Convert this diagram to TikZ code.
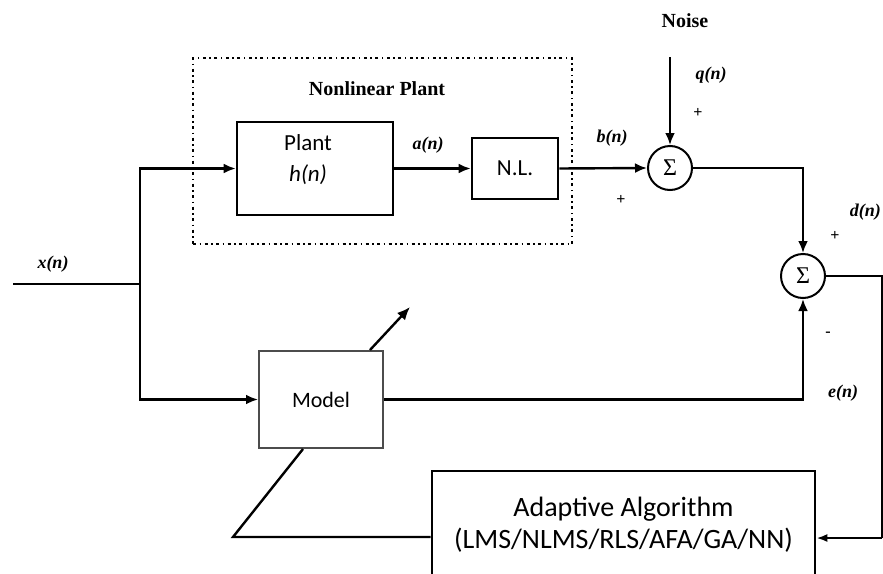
\documentclass[tikz,border=0pt]{standalone}
\usepackage{fontspec}
\setmainfont{Liberation Serif}
\newfontfamily\calib{Carlito}
\usetikzlibrary{arrows.meta,calc}
\begin{document}
\begin{tikzpicture}[x=1pt,y=-1pt,
  line/.style={line width=2.4pt},
  arr/.style={line width=2.4pt,-{Latex[length=12pt,width=10pt]}},
  blk/.style={draw,line width=2.6pt,inner sep=0pt},
  thinblk/.style={draw=black!70,line width=2pt,inner sep=0pt},
  sumnode/.style={draw,circle,line width=2pt,minimum size=44pt,inner sep=0pt,font=\fontsize{24}{24}\selectfont},
  lab/.style={font=\fontsize{18}{18}\selectfont\bfseries\itshape},
  title/.style={font=\fontsize{20}{20}\selectfont\bfseries},
  sgn/.style={font=\fontsize{16}{16}\selectfont\bfseries},
  sans/.style={font=\calib\fontsize{23}{31}\selectfont,align=center}]
\clip (0,0) rectangle (883,573);
\fill[white] (0,0) rectangle (883,573);
% blocks
\node[draw,line width=2pt,dash pattern=on 3pt off 3.5pt on 1.5pt off 3.5pt,minimum width=379pt,minimum height=186pt,inner sep=0pt] (nlp) at (382.5,151) {};
\node[title] (nlptitle) at (377,89) {Nonlinear Plant};
\node[blk,minimum width=156pt,minimum height=93pt] (plant) at (315,168.5) {};
\node[sans] (plantlbl) at (308,160) {Plant\\\textit{h(n)}};
\node[blk,minimum width=86pt,minimum height=61pt,font=\calib\fontsize{23}{23}\selectfont] (nl) at (515,168.5) {N.L.};
\node[sumnode] (s1) at (670,168) {Σ};
\node[sumnode] (s2) at (803,276) {Σ};
\node[thinblk,minimum width=124pt,minimum height=97pt,font=\calib\fontsize{22}{22}\selectfont] (model) at (321,399.5) {\raisebox{-5pt}{Model}};
\node[blk,minimum width=383pt,minimum height=108pt,font=\calib\fontsize{28}{32}\selectfont,align=center] (adapt) at (623.5,525) {Adaptive Algorithm\\(LMS/NLMS/RLS/AFA/GA/NN)};
% coordinates
\coordinate (xin) at (13,284);
\coordinate (br) at (140,284);
\coordinate (noise) at (670,57);
\coordinate (r1) at (882,276);
\coordinate (r2) at (882,538);
\coordinate (fb) at (233,537);
\coordinate (tune) at (410,307);
% connectors
\draw[line] (xin) -- (br);
\draw[arr] (br) |- (plant.west);
\draw[arr] (br) |- (model.west);
\draw[arr] (plant.east) -- (nl.west);
\draw[arr] (nl.east) -- (s1.west);
\draw[arr] (noise) -- (s1.north);
\draw[arr] (s1.east) -| (s2.north);
\draw[arr] (model.east) -| (s2.south);
\draw[line] (s2.east) -- (r1) -- (r2);
\draw[line width=2.4pt,-{Latex[length=11pt,width=8pt]}] (r2) -- (r2 -| adapt.east);
\draw[line] (adapt.west |- fb) -- (fb) -- ($(model.south)+(-18,0)$);
\draw[line width=2.4pt,-{Latex[length=13pt,width=11pt]}] ($(model.north)+(49,0)$) -- (tune);
% labels
\node[lab] (xl) at (53,264) {x(n)};
\node[lab] (al) at (428,145) {a(n)};
\node[lab] (bl) at (612,138) {b(n)};
\node[lab] (ql) at (711,75) {q(n)};
\node[title] (nz) at (685,21) {Noise};
\node[lab,anchor=east,inner xsep=1pt] (dl) at (882,212) {d(n)};
\node[lab] (el) at (843,393) {e(n)};
\node[sgn] (p1) at (698,113) {+};
\node[sgn] (p2) at (621,200) {+};
\node[sgn] (p3) at (835,236) {+};
\node[sgn] (m1) at (828,334) {-};
\end{tikzpicture}
\end{document}
